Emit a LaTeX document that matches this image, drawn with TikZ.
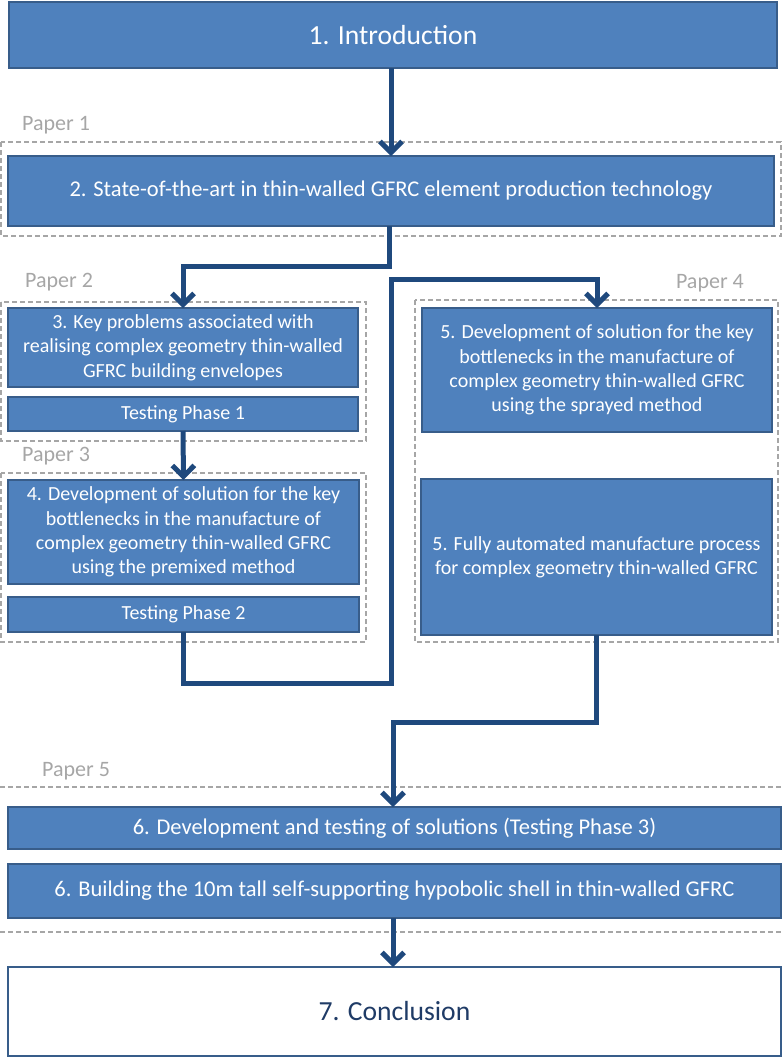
\documentclass[tikz,border=0pt]{standalone}
\usepackage{fontspec}
\setmainfont{Carlito}
\usetikzlibrary{arrows.meta}
\definecolor{boxfill}{HTML}{4F81BD}
\definecolor{boxline}{HTML}{385D8A}
\definecolor{arrcol}{HTML}{1F497D}
\definecolor{dashcol}{HTML}{A6A6A6}
\definecolor{conctext}{HTML}{1F3B66}
\tikzset{
  box/.style={draw=boxline, line width=1.8pt, fill=boxfill, text=white, align=center,
    inner sep=0pt, outer sep=0pt, font=\fontsize{20}{24.3}\selectfont},
  widebox/.style={box, font=\fontsize{22.5}{27}\selectfont},
  bigbox/.style={box, font=\fontsize{27.6}{32}\selectfont},
  concbox/.style={draw=boxline, line width=1.8pt, fill=white, text=conctext, align=center,
    inner sep=0pt, outer sep=0pt, font=\fontsize{27.6}{32}\selectfont},
  arr/.style={draw=arrcol, line width=5pt, -{Straight Barb[length=11pt,width=22pt]}},
  dashbox/.style={draw=dashcol, line width=1.5pt, dash pattern=on 5pt off 3pt},
  paper/.style={text=dashcol, inner sep=0pt, font=\fontsize{22}{26}\selectfont},
}
\begin{document}
\begin{tikzpicture}[x=1pt, y=-1pt]
\useasboundingbox (0,0) rectangle (782,1058);
% dashed groups
\draw[dashbox] (1,142) rectangle (781,236);
\draw[dashbox] (1,302) rectangle (366,441);
\draw[dashbox] (1,473) rectangle (366,642);
\draw[dashbox] (415,300) rectangle (778,642);
\draw[dashbox] (0,787) -- (782,787);
\draw[dashbox] (0,932) -- (782,932);
% paper labels
\node[paper, anchor=west] (p1) at (22,125) {Paper 1};
\node[paper, anchor=west] (p2) at (25,282) {Paper 2};
\node[paper, anchor=west] (p3) at (22,456) {Paper 3};
\node[paper, anchor=east] (p4) at (744,283) {Paper 4};
\node[paper, anchor=west] (p5) at (42,771) {Paper 5};
% boxes
\node[bigbox, minimum width=768pt, minimum height=66pt] (intro) at (393,35) {1. Introduction};
\node[widebox, minimum width=766pt, minimum height=70pt] (box2) at (391,191) {2. State-of-the-art in thin-walled GFRC element production technology};
\node[box, minimum width=350pt, minimum height=79pt] (box3) at (183,347.5) {3. Key problems associated with\\realising complex geometry thin-walled\\GFRC building envelopes};
\node[box, minimum width=350pt, minimum height=34pt] (tp1) at (183,414) {Testing Phase 1};
\node[box, minimum width=351pt, minimum height=104pt] (box4) at (183.5,532) {4. Development of solution for the key\\bottlenecks in the manufacture of\\complex geometry thin-walled GFRC\\using the premixed method};
\node[box, minimum width=351pt, minimum height=35pt] (tp2) at (183.5,614.5) {Testing Phase 2};
\node[box, minimum width=350pt, minimum height=124pt] (box5a) at (597,370) {5. Development of solution for the key\\bottlenecks in the manufacture of\\complex geometry thin-walled GFRC\\using the sprayed method};
\node[box, minimum width=351pt, minimum height=156pt] (box5b) at (596.5,557) {5. Fully automated manufacture process\\for complex geometry thin-walled GFRC};
\node[widebox, minimum width=773pt, minimum height=42pt] (box6a) at (394.5,828) {6. Development and testing of solutions (Testing Phase 3)};
\node[widebox, minimum width=773pt, minimum height=54pt] (box6b) at (394.5,891) {6. Building the 10m tall self-supporting hypobolic shell in thin-walled GFRC};
\node[concbox, minimum width=773pt, minimum height=89pt] (conc) at (394.5,1011.5) {7. Conclusion};
% junction coordinates
\coordinate (j0) at (389,266);
\coordinate (j1) at (391,683);
\coordinate (j2) at (391,279);
\coordinate (j3) at (393,722);
% connectors
\draw[arr] (box2.north |- intro.south) -- (box2.north);
\draw[arr] (box2.south -| j0) |- (j0) -| (box3.north);
\draw[arr] (tp1.south) -- (box4.north);
\draw[arr] (tp2.south) |- (j1) -- (j2) -| (box5a.north);
\draw[arr] (box5b.south) |- (j3) -- (j3 |- box6a.north);
\draw[arr] (box6b.south -| j3) -- (j3 |- conc.north);
\end{tikzpicture}
\end{document}
